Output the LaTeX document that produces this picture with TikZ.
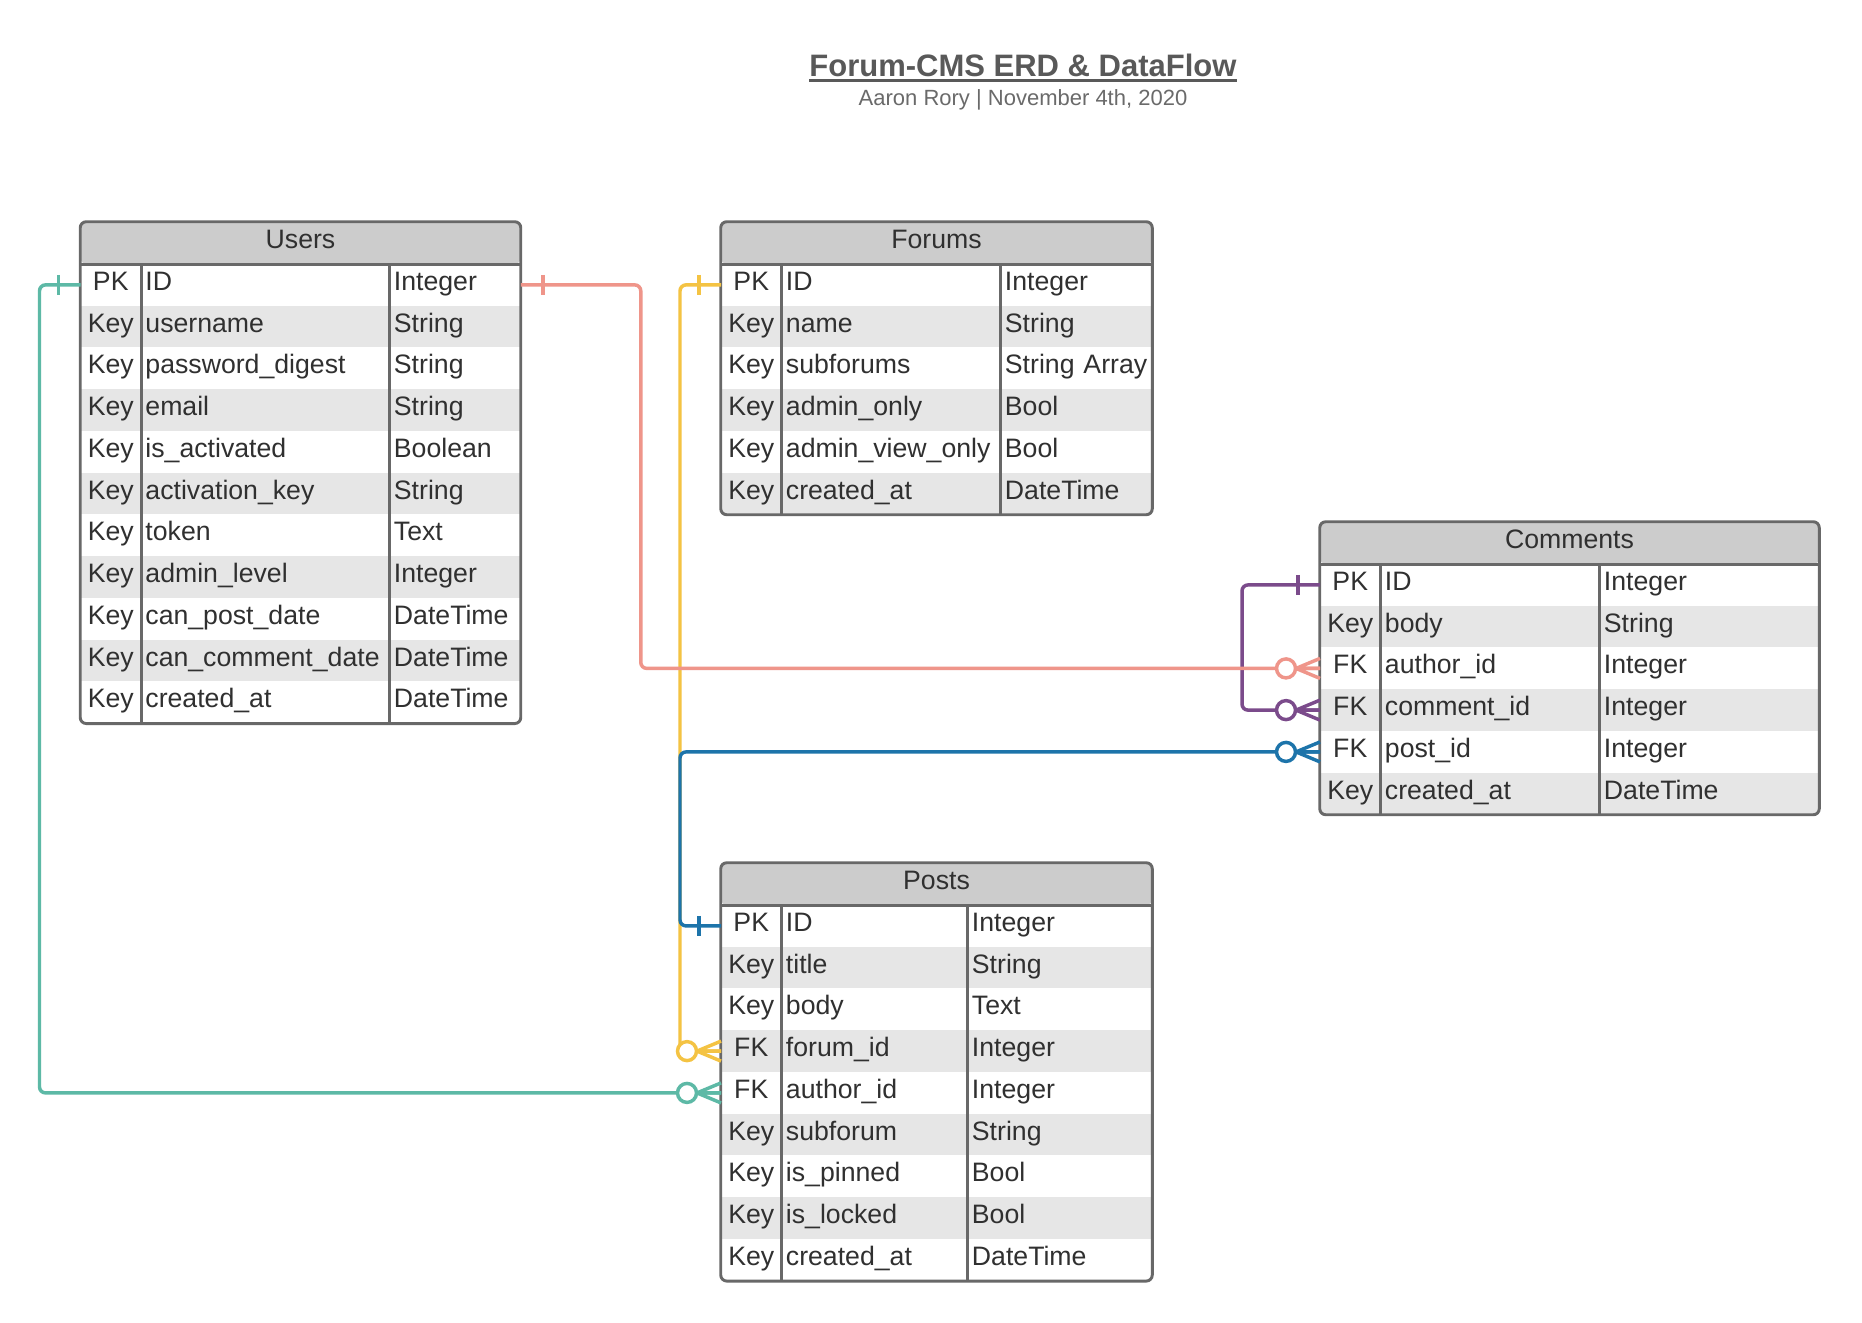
\documentclass[tikz,border=0pt]{standalone}
\usepackage{fontspec}
\setmainfont{Liberation Sans}

\definecolor{frm}{HTML}{686868}
\definecolor{headgray}{HTML}{CCCCCC}
\definecolor{rowgray}{HTML}{E6E6E6}
\definecolor{txt}{HTML}{303030}
\definecolor{ttlgray}{HTML}{595959}
\definecolor{subgray}{HTML}{6A6A6A}
\definecolor{lnteal}{HTML}{5DB9A6}
\definecolor{lnsalmon}{HTML}{EF958A}
\definecolor{lnyellow}{HTML}{F4C343}
\definecolor{lnpurple}{HTML}{7B4B8B}
\definecolor{lnblue}{HTML}{1D74AA}

\tikzset{
  cell/.style={anchor=west, font=\fontsize{20}{24}\selectfont, text=txt, inner xsep=3.5pt, inner ysep=0pt,
    minimum height=31.3pt, text height=14.3pt, text depth=6pt, align=left},
  kc/.style={cell, text width=38pt, align=center},
  grayrow/.style={fill=rowgray},
  head/.style={font=\fontsize{20}{24}\selectfont, text=txt, fill=headgray, inner sep=0pt,
    minimum height=31.5pt, text height=14.3pt, text depth=6pt, rounded corners=4.5pt},
  frame/.style={draw=frm, line width=2.2pt},
  lnk/.style={line width=2.6pt, rounded corners=4.5pt},
  onebar/.pic={\draw (-22,-10) -- (-22,10);},
  zeromany/.pic={
    \draw (-24,0) -- (0,-10) (-24,0) -- (0,10) (-24,0) -- (0,0);
    \draw[fill=white] (-34,0) circle (9.5);
  },
}

\begin{document}
\begin{tikzpicture}[x=0.75pt, y=-0.75pt]
\useasboundingbox (0,0) rectangle (1862,1322);
\fill[white] (0,0) rectangle (1862,1322);

% title
\node[anchor=base, inner sep=0pt, text=ttlgray, font=\fontsize{23.25}{28}\selectfont\bfseries] (title) at (1023,76) {Forum-CMS ERD \& DataFlow};
\draw[ttlgray, line width=2.2pt] ([yshift=-3.4pt]title.base west) -- ([yshift=-3.4pt]title.base east);
\node[anchor=base, inner sep=0pt, text=subgray, font=\fontsize{16.5}{20}\selectfont] (subtitle) at (1023,105) {Aaron Rory | November 4th, 2020};

% Users
\begin{scope}[fc/.style={cell, text width=179.4pt}, tc/.style={cell, text width=91.6pt}]
\node[head, minimum width=330pt] (users) at (300.5,243) {Users};
\node[kc] (u1) at (80.5,284.9) {PK};
\node[fc] (u1f) at (140.5,284.9) {ID};
\node[tc] at (389,284.9) {Integer};
\node[kc, grayrow] (u2) at (80.5,326.6) {Key};
\node[fc, grayrow] at (140.5,326.6) {username};
\node[tc, grayrow] at (389,326.6) {String};
\node[kc] (u3) at (80.5,368.4) {Key};
\node[fc] at (140.5,368.4) {password\_digest};
\node[tc] at (389,368.4) {String};
\node[kc, grayrow] (u4) at (80.5,410.1) {Key};
\node[fc, grayrow] at (140.5,410.1) {email};
\node[tc, grayrow] at (389,410.1) {String};
\node[kc] (u5) at (80.5,451.9) {Key};
\node[fc] at (140.5,451.9) {is\_activated};
\node[tc] at (389,451.9) {Boolean};
\node[kc, grayrow] (u6) at (80.5,493.6) {Key};
\node[fc, grayrow] at (140.5,493.6) {activation\_key};
\node[tc, grayrow] at (389,493.6) {String};
\node[kc] (u7) at (80.5,535.4) {Key};
\node[fc] at (140.5,535.4) {token};
\node[tc] at (389,535.4) {Text};
\node[kc, grayrow] (u8) at (80.5,577.1) {Key};
\node[fc, grayrow] at (140.5,577.1) {admin\_level};
\node[tc, grayrow] at (389,577.1) {Integer};
\node[kc] (u9) at (80.5,618.9) {Key};
\node[fc] at (140.5,618.9) {can\_post\_date};
\node[tc] at (389,618.9) {DateTime};
\node[kc, grayrow] (u10) at (80.5,660.6) {Key};
\node[fc, grayrow] at (140.5,660.6) {can\_comment\_date};
\node[tc, grayrow] at (389,660.6) {DateTime};
\node[kc] (u11) at (80.5,702.4) {Key};
\node[fc] at (140.5,702.4) {created\_at};
\node[tc] at (389,702.4) {DateTime};
\draw[frame, rounded corners=4.5pt] (users.north west) rectangle (u11.south -| users.east);
\draw[frame] (users.south west) -- (users.south east);
\draw[frame] (u1.north east) -- (u11.south east);
\draw[frame] (u1f.north east) -- (u1f.north east |- u11.south);
\end{scope}

% Forums
\begin{scope}[fc/.style={cell, text width=157.25pt}, tc/.style={cell, text width=107pt}]
\node[head, minimum width=323.25pt] (forums) at (936.5,243) {Forums};
\node[kc] (f1) at (721,284.9) {PK};
\node[fc] (f1f) at (781,284.9) {ID};
\node[tc] at (1000,284.9) {Integer};
\node[kc, grayrow] (f2) at (721,326.6) {Key};
\node[fc, grayrow] at (781,326.6) {name};
\node[tc, grayrow] at (1000,326.6) {String};
\node[kc] (f3) at (721,368.4) {Key};
\node[fc] at (781,368.4) {subforums};
\node[tc] at (1000,368.4) {String Array};
\node[kc, grayrow] (f4) at (721,410.1) {Key};
\node[fc, grayrow] at (781,410.1) {admin\_only};
\node[tc, grayrow] at (1000,410.1) {Bool};
\node[kc] (f5) at (721,451.9) {Key};
\node[fc] at (781,451.9) {admin\_view\_only};
\node[tc] at (1000,451.9) {Bool};
\node[kc, grayrow] (f6) at (721,493.6) {Key};
\node[fc, grayrow] at (781,493.6) {created\_at};
\node[tc, grayrow] at (1000,493.6) {DateTime};
\draw[frame, rounded corners=4.5pt] (forums.north west) rectangle (f6.south -| forums.east);
\draw[frame] (forums.south west) -- (forums.south east);
\draw[frame] (f1.north east) -- (f6.south east);
\draw[frame] (f1f.north east) -- (f1f.north east |- f6.south);
\end{scope}

% Comments
\begin{scope}[fc/.style={cell, text width=157.25pt}, tc/.style={cell, text width=158pt}]
\node[head, minimum width=374.25pt] (comments) at (1569.5,543) {Comments};
\node[kc] (c1) at (1320,584.9) {PK};
\node[fc] (c1f) at (1380,584.9) {ID};
\node[tc] at (1599,584.9) {Integer};
\node[kc, grayrow] (c2) at (1320,626.6) {Key};
\node[fc, grayrow] at (1380,626.6) {body};
\node[tc, grayrow] at (1599,626.6) {String};
\node[kc] (c3) at (1320,668.4) {FK};
\node[fc] at (1380,668.4) {author\_id};
\node[tc] at (1599,668.4) {Integer};
\node[kc, grayrow] (c4) at (1320,710.1) {FK};
\node[fc, grayrow] at (1380,710.1) {comment\_id};
\node[tc, grayrow] at (1599,710.1) {Integer};
\node[kc] (c5) at (1320,751.9) {FK};
\node[fc] at (1380,751.9) {post\_id};
\node[tc] at (1599,751.9) {Integer};
\node[kc, grayrow] (c6) at (1320,793.6) {Key};
\node[fc, grayrow] at (1380,793.6) {created\_at};
\node[tc, grayrow] at (1599,793.6) {DateTime};
\draw[frame, rounded corners=4.5pt] (comments.north west) rectangle (c6.south -| comments.east);
\draw[frame] (comments.south west) -- (comments.south east);
\draw[frame] (c1.north east) -- (c6.south east);
\draw[frame] (c1f.north east) -- (c1f.north east |- c6.south);
\end{scope}

% Posts
\begin{scope}[fc/.style={cell, text width=132.5pt}, tc/.style={cell, text width=131.75pt}]
\node[head, minimum width=323.25pt] (posts) at (936.5,884) {Posts};
\node[kc] (p1) at (721,925.9) {PK};
\node[fc] (p1f) at (781,925.9) {ID};
\node[tc] at (967,925.9) {Integer};
\node[kc, grayrow] (p2) at (721,967.6) {Key};
\node[fc, grayrow] at (781,967.6) {title};
\node[tc, grayrow] at (967,967.6) {String};
\node[kc] (p3) at (721,1009.4) {Key};
\node[fc] at (781,1009.4) {body};
\node[tc] at (967,1009.4) {Text};
\node[kc, grayrow] (p4) at (721,1051.1) {FK};
\node[fc, grayrow] at (781,1051.1) {forum\_id};
\node[tc, grayrow] at (967,1051.1) {Integer};
\node[kc] (p5) at (721,1092.9) {FK};
\node[fc] at (781,1092.9) {author\_id};
\node[tc] at (967,1092.9) {Integer};
\node[kc, grayrow] (p6) at (721,1134.6) {Key};
\node[fc, grayrow] at (781,1134.6) {subforum};
\node[tc, grayrow] at (967,1134.6) {String};
\node[kc] (p7) at (721,1176.4) {Key};
\node[fc] at (781,1176.4) {is\_pinned};
\node[tc] at (967,1176.4) {Bool};
\node[kc, grayrow] (p8) at (721,1218.1) {Key};
\node[fc, grayrow] at (781,1218.1) {is\_locked};
\node[tc, grayrow] at (967,1218.1) {Bool};
\node[kc] (p9) at (721,1259.9) {Key};
\node[fc] at (781,1259.9) {created\_at};
\node[tc] at (967,1259.9) {DateTime};
\draw[frame, rounded corners=4.5pt] (posts.north west) rectangle (p9.south -| posts.east);
\draw[frame] (posts.south west) -- (posts.south east);
\draw[frame] (p1.north east) -- (p9.south east);
\draw[frame] (p1f.north east) -- (p1f.north east |- p9.south);
\end{scope}

% relations
\draw[lnk, lnyellow] (f1.west) -- ++(-41,0) |- (p4.west);
\draw[lnk, lnblue] (p1.west) -- ++(-41,0) |- (c5.west);
\draw[lnk, lnpurple] (c1.west) -- ++(-78,0) |- (c4.west);
\draw[lnk, lnsalmon] (u1 -| users.east) -- ++(120,0) |- (c3.west);
\draw[lnk, lnteal] (u1.west) -- ++(-41,0) |- (p5.west);

\pic[lnk, lnyellow] at (f1.west) {onebar};
\pic[lnk, lnyellow] at (p4.west) {zeromany};
\pic[lnk, lnblue] at (p1.west) {onebar};
\pic[lnk, lnblue] at (c5.west) {zeromany};
\pic[lnk, lnpurple] at (c1.west) {onebar};
\pic[lnk, lnpurple] at (c4.west) {zeromany};
\pic[lnk, lnsalmon, xscale=-1] at (u1 -| users.east) {onebar};
\pic[lnk, lnsalmon] at (c3.west) {zeromany};
\pic[lnk, lnteal] at (u1.west) {onebar};
\pic[lnk, lnteal] at (p5.west) {zeromany};
\end{tikzpicture}
\end{document}
